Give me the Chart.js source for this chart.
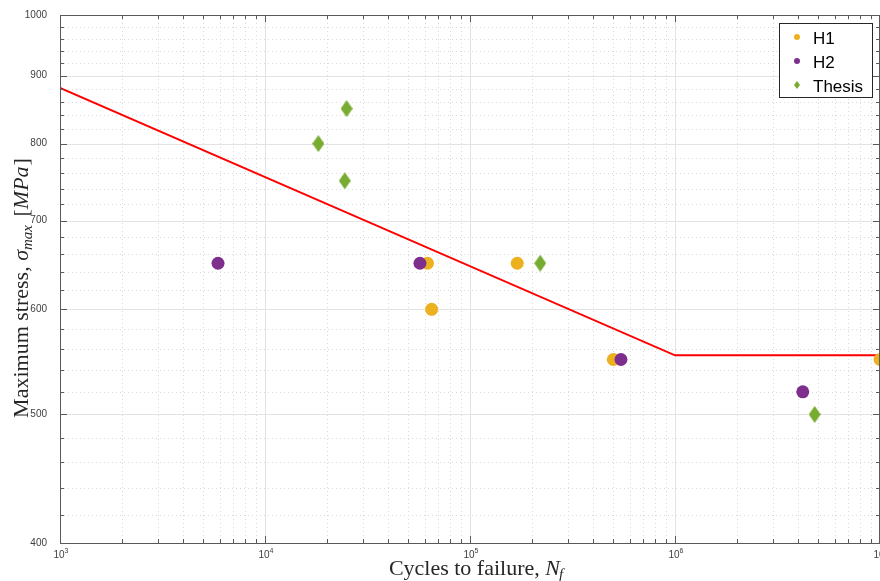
<!DOCTYPE html>
<html>
<head>
<meta charset="utf-8">
<script src="https://cdn.jsdelivr.net/npm/chart.js@4.4.0/dist/chart.umd.min.js"></script>
<style>
  html, body { margin: 0; padding: 0; background: #fff; overflow: hidden; }
  #wrap { width: 880px; height: 581px; }
  canvas { display: block; }
</style>
</head>
<body>
<div id="wrap"><canvas id="c"></canvas></div>
<script>
/* ── DATA ── */
const h1Cycles     = [6.2e4, 6.5e4, 1.7e5, 5.0e5, 1.0e7];
const h1Stress     = [650, 600, 650, 550, 550];
const h2Cycles     = [5.9e3, 5.7e4, 5.45e5, 4.2e6];
const h2Stress     = [650, 650, 550, 520];
const thesisCycles = [1.82e4, 2.5e4, 2.45e4, 2.2e5, 4.8e6];
const thesisStress = [800, 850, 750, 650, 500];
const fitCycles    = [1e3, 1e6, 1e7];
const fitStress    = [881, 554, 554];
const xTicks       = [1e3, 1e4, 1e5, 1e6, 1e7];
const yTicks       = [400, 500, 600, 700, 800, 900, 1000];

const COL = { h1: '#EDB120', h2: '#7E2F8E', th: '#77AC30', fit: '#FF0000' };

// minor tick positions (2..9 per decade on x, every 20 MPa on y)
const xMinor = [];
for (let d = 1e3; d < 1e7; d *= 10) for (let k = 2; k <= 9; k++) xMinor.push(d * k);
const yMinor = [];
for (let v = 420; v < 1000; v += 20) if (v % 100) yMinor.push(v);

const pts = (xs, ys) => xs.map((x, i) => ({ x, y: ys[i] }));

/* ── DIAMOND MARKER ── */
function diamond(w, h, color) {
  const cv = document.createElement('canvas');
  cv.width = w; cv.height = h;
  const g = cv.getContext('2d');
  g.fillStyle = color;
  g.beginPath();
  g.moveTo(w / 2, 0); g.lineTo(w, h / 2); g.lineTo(w / 2, h); g.lineTo(0, h / 2);
  g.closePath(); g.fill();
  return cv;
}
const bigDiamond = diamond(12, 17, COL.th);

/* ── MIXED-FONT TEXT (axis titles, tick exponents) ── */
function runText(ctx, parts, x, y) {
  let w = 0;
  parts.forEach(p => { ctx.font = p.f; p.w = ctx.measureText(p.t).width + (p.gap || 0); w += p.w; });
  let cx = x - w / 2;
  parts.forEach(p => { ctx.font = p.f; ctx.fillText(p.t, cx, y + (p.dy || 0)); cx += p.w; });
}

const SERIF  = "22px 'Liberation Serif', 'DejaVu Serif', serif";
const ISERIF = "italic 22px 'Liberation Serif', 'DejaVu Serif', serif";
const ISUB   = "italic 15px 'Liberation Serif', 'DejaVu Serif', serif";
const TICK   = "10px 'Liberation Sans', Arial, sans-serif";
const TSUP   = "7px 'Liberation Sans', Arial, sans-serif";

/* ── FRAME / GRID / LEGEND PLUGIN ── */
const framePlugin = {
  id: 'frame',
  beforeDatasetsDraw(chart) {
    const { ctx, chartArea: a, scales: { x, y } } = chart;
    ctx.save();
    ctx.lineWidth = 1;
    // minor dotted grid
    ctx.strokeStyle = '#dadada';
    ctx.setLineDash([1, 3]);
    xMinor.forEach(v => { const px = Math.round(x.getPixelForValue(v)) + 0.5;
      ctx.beginPath(); ctx.moveTo(px, a.top); ctx.lineTo(px, a.bottom); ctx.stroke(); });
    yMinor.forEach(v => { const py = Math.round(y.getPixelForValue(v)) + 0.5;
      ctx.beginPath(); ctx.moveTo(a.left, py); ctx.lineTo(a.right, py); ctx.stroke(); });
    // major solid grid
    ctx.setLineDash([]);
    ctx.strokeStyle = '#e3e3e3';
    xTicks.forEach(v => { const px = Math.round(x.getPixelForValue(v)) + 0.5;
      ctx.beginPath(); ctx.moveTo(px, a.top); ctx.lineTo(px, a.bottom); ctx.stroke(); });
    yTicks.forEach(v => { const py = Math.round(y.getPixelForValue(v)) + 0.5;
      ctx.beginPath(); ctx.moveTo(a.left, py); ctx.lineTo(a.right, py); ctx.stroke(); });
    ctx.restore();
  },
  afterDatasetsDraw(chart) {
    const { ctx, chartArea: a, scales: { x, y } } = chart;
    ctx.save();
    ctx.strokeStyle = '#595959';
    ctx.lineWidth = 1;
    // axes box
    ctx.strokeRect(a.left + 0.5, a.top + 0.5, a.right - a.left - 1, a.bottom - a.top);
    // inward ticks
    const tickX = (v, len) => { const px = Math.round(x.getPixelForValue(v)) + 0.5;
      ctx.beginPath(); ctx.moveTo(px, a.bottom); ctx.lineTo(px, a.bottom - len);
      ctx.moveTo(px, a.top); ctx.lineTo(px, a.top + len); ctx.stroke(); };
    const tickY = (v, len) => { const py = Math.round(y.getPixelForValue(v)) + 0.5;
      ctx.beginPath(); ctx.moveTo(a.left, py); ctx.lineTo(a.left + len, py);
      ctx.moveTo(a.right, py); ctx.lineTo(a.right - len, py); ctx.stroke(); };
    xTicks.forEach(v => tickX(v, 7));
    xMinor.forEach(v => tickX(v, 4));
    yTicks.forEach(v => tickY(v, 7));
    yMinor.forEach(v => tickY(v, 4));

    // x tick labels: 10 with raised exponent
    ctx.fillStyle = '#404040';
    ctx.textBaseline = 'alphabetic';
    xTicks.forEach(v => {
      runText(ctx, [
        { t: '10', f: TICK },
        { t: String(Math.round(Math.log10(v))), f: TSUP, dy: -5 },
      ], x.getPixelForValue(v) + 1, 558);
    });

    // axis titles
    ctx.fillStyle = '#262626';
    runText(ctx, [
      { t: 'Cycles to failure, ', f: SERIF },
      { t: 'N', f: ISERIF, gap: -1 },
      { t: 'f', f: ISUB, dy: 4 },
    ], 476, 575);
    ctx.save();
    ctx.translate(28, 288);
    ctx.rotate(-Math.PI / 2);
    runText(ctx, [
      { t: 'Maximum stress, ', f: SERIF },
      { t: 'σ', f: ISERIF },
      { t: 'max', f: ISUB, dy: 4, gap: 3 },
      { t: ' [', f: SERIF },
      { t: 'MPa', f: ISERIF, gap: 1 },
      { t: ']', f: SERIF },
    ], 0, 0);
    ctx.restore();

    // legend box
    const lx = 779, ly = 23, lw = 93, lh = 74;
    ctx.fillStyle = '#fff';
    ctx.fillRect(lx, ly, lw, lh);
    ctx.strokeStyle = '#262626';
    ctx.strokeRect(lx + 0.5, ly + 0.5, lw, lh);
    const items = [
      { t: 'H1', c: COL.h1, m: 'circle', y: 37 },
      { t: 'H2', c: COL.h2, m: 'circle', y: 61 },
      { t: 'Thesis', c: COL.th, m: 'diamond', y: 85 },
    ];
    ctx.font = "17px 'Liberation Sans', Arial, sans-serif";
    ctx.textBaseline = 'middle';
    items.forEach(it => {
      ctx.fillStyle = it.c;
      ctx.beginPath();
      if (it.m === 'circle') ctx.arc(797, it.y, 3, 0, Math.PI * 2);
      else { ctx.moveTo(797, it.y - 4); ctx.lineTo(800, it.y); ctx.lineTo(797, it.y + 4); ctx.lineTo(794, it.y); ctx.closePath(); }
      ctx.fill();
      ctx.fillStyle = '#000';
      ctx.fillText(it.t, 813, it.y + 2);
    });
    ctx.restore();
  },
};

/* ── CHART ── */
const tickFont = { family: "'Liberation Sans', Arial, sans-serif", size: 10 };

new Chart(document.getElementById('c').getContext('2d'), {
  type: 'scatter',
  data: {
    datasets: [
      { label: 'H1', data: pts(h1Cycles, h1Stress), backgroundColor: COL.h1, borderWidth: 0,
        pointRadius: 6.5, pointHoverRadius: 6.5, order: 2 },
      { label: 'H2', data: pts(h2Cycles, h2Stress), backgroundColor: COL.h2, borderWidth: 0,
        pointRadius: 6.5, pointHoverRadius: 6.5, order: 1 },
      { label: 'Thesis', data: pts(thesisCycles, thesisStress), backgroundColor: COL.th, borderWidth: 0,
        pointStyle: bigDiamond, pointRadius: 8, order: 0 },
      { type: 'line', label: 'fit', data: pts(fitCycles, fitStress), borderColor: COL.fit,
        borderWidth: 2, pointRadius: 0, fill: false, tension: 0, order: 3 },
    ],
  },
  options: {
    responsive: true,
    maintainAspectRatio: false,
    animation: false,
    layout: { autoPadding: false, padding: { top: 15, right: 0, left: 0, bottom: 0 } },
    plugins: { legend: { display: false }, tooltip: { enabled: false } },
    scales: {
      x: {
        type: 'logarithmic', min: 1e3, max: 1e7,
        grid: { display: false }, border: { display: false },
        afterBuildTicks: s => { s.ticks = xTicks.map(v => ({ value: v })); },
        afterFit: s => { s.height = 38; },
        ticks: { display: false },
      },
      y: {
        type: 'logarithmic', min: 400, max: 1000,
        grid: { display: false }, border: { display: false },
        afterBuildTicks: s => { s.ticks = yTicks.map(v => ({ value: v })); },
        afterFit: s => { s.width = 60; },
        ticks: { autoSkip: false, padding: 5, color: '#404040', font: tickFont, callback: v => String(v) },
      },
    },
  },
  plugins: [framePlugin],
});
</script>
</body>
</html>
